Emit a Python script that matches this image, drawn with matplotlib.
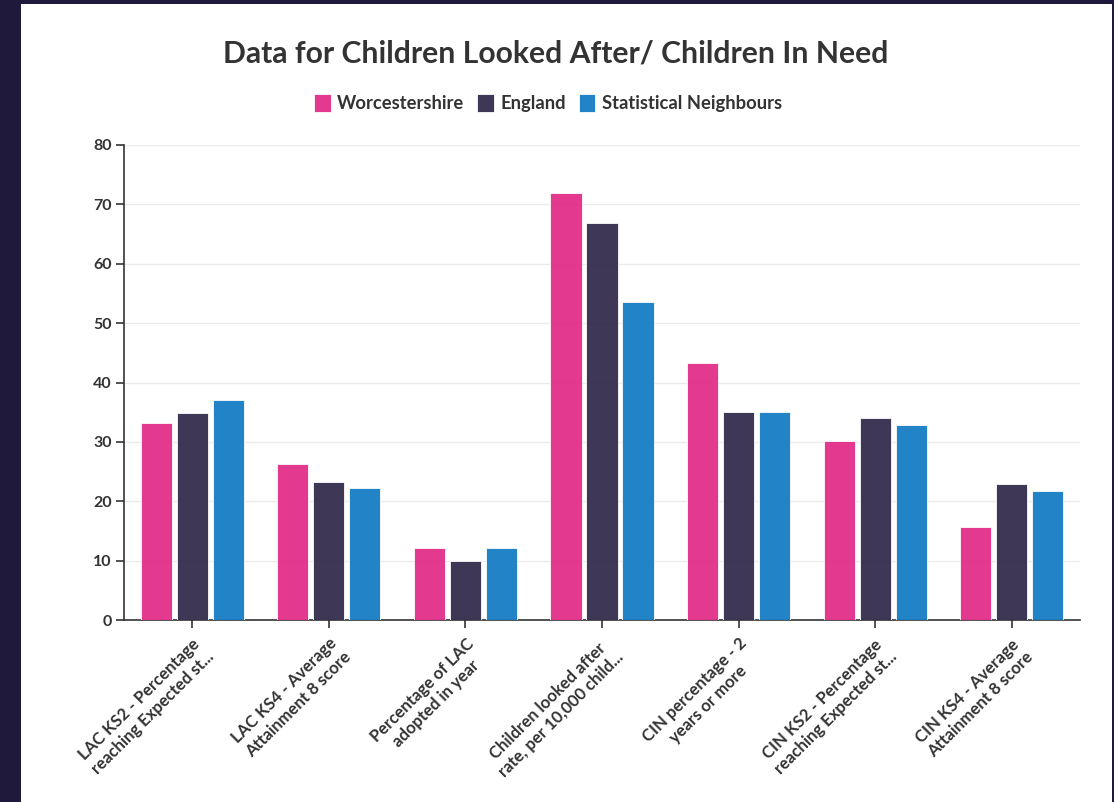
import numpy as np
import matplotlib
matplotlib.use("Agg")
import matplotlib.pyplot as plt
from matplotlib.patches import Rectangle

# categories and values
categories = [
    "LAC KS2 - Percentage\nreaching Expected st...",
    "LAC KS4 - Average\nAttainment 8 score",
    "Percentage of LAC\nadopted in year",
    "Children looked after\nrate, per 10,000 child...",
    "CIN percentage - 2\nyears or more",
    "CIN KS2 - Percentage\nreaching Expected st...",
    "CIN KS4 - Average\nAttainment 8 score",
]
worcestershire = [33.1, 26.2, 12.1, 71.9, 43.3, 30.1, 15.7]
england = [34.9, 23.3, 10.0, 66.9, 35.1, 34.0, 22.9]
stat_neighbours = [37.0, 22.2, 12.2, 53.5, 35.0, 32.9, 21.7]
series_names = ["Worcestershire", "England", "Statistical Neighbours"]
colors = ["#e2328b", "#37304f", "#1b7fc6"]

plt.rcParams['font.family'] = ['Lato', 'DejaVu Sans']
text_col = "#333333"

fig = plt.figure(figsize=(11.14, 8.02), dpi=100, facecolor="#1f1a3b")
# white card behind everything
card = Rectangle((21 / 1114, 0), (1112 - 21) / 1114, 1 - 4 / 802,
                 transform=fig.transFigure, facecolor="white", edgecolor="none", zorder=-10)
fig.add_artist(card)

ax = fig.add_axes([124 / 1114, (802 - 620) / 802, (1080 - 124) / 1114, (620 - 145) / 802])
ax.set_zorder(1)
ax.set_facecolor("white")

x = np.arange(len(categories))
width = 0.228
step = 0.264
for i, (vals, name, col) in enumerate(zip([worcestershire, england, stat_neighbours], series_names, colors)):
    ax.bar(x + (i - 1) * step, vals, width, color=col, label=name, alpha=0.97,
           edgecolor="#ffffff", linewidth=0.6, zorder=3)

ax.set_xlim(-0.5, len(categories) - 0.5)
ax.set_ylim(0, 80)
ax.set_yticks(range(0, 81, 10))
ax.grid(axis="y", color="#ebebeb", linewidth=1, zorder=0)
ax.set_axisbelow(True)

for s in ["top", "right"]:
    ax.spines[s].set_visible(False)
for s in ["left", "bottom"]:
    ax.spines[s].set_color(text_col)
    ax.spines[s].set_linewidth(1.2)

ax.tick_params(axis="y", length=6, width=1.2, color=text_col, labelsize=11.5,
               labelcolor=text_col, pad=3)
ax.tick_params(axis="x", length=6, width=1.2, color=text_col, pad=5)
for lab in ax.get_yticklabels():
    lab.set_fontweight("bold")

ax.set_xticks(x)
ax.set_xticklabels(categories, rotation=45, ha="right", va="top", rotation_mode="anchor",
                   fontsize=12, fontweight="bold", color=text_col, multialignment="center",
                   linespacing=1.25)

fig.text(556 / 1114, 1 - 53 / 802, "Data for Children Looked After/ Children In Need",
         ha="center", va="center", fontsize=21.7, fontweight="bold", color=text_col)

leg = fig.legend(loc="center", bbox_to_anchor=(548 / 1114, 1 - 103 / 802), ncol=3,
                 frameon=False, handlelength=0.9, handleheight=1.1, handletextpad=0.35,
                 columnspacing=0.7, prop={"weight": "bold", "size": 13.2})
for t in leg.get_texts():
    t.set_color(text_col)

fig.savefig("out.png", dpi=100, facecolor=fig.get_facecolor())
